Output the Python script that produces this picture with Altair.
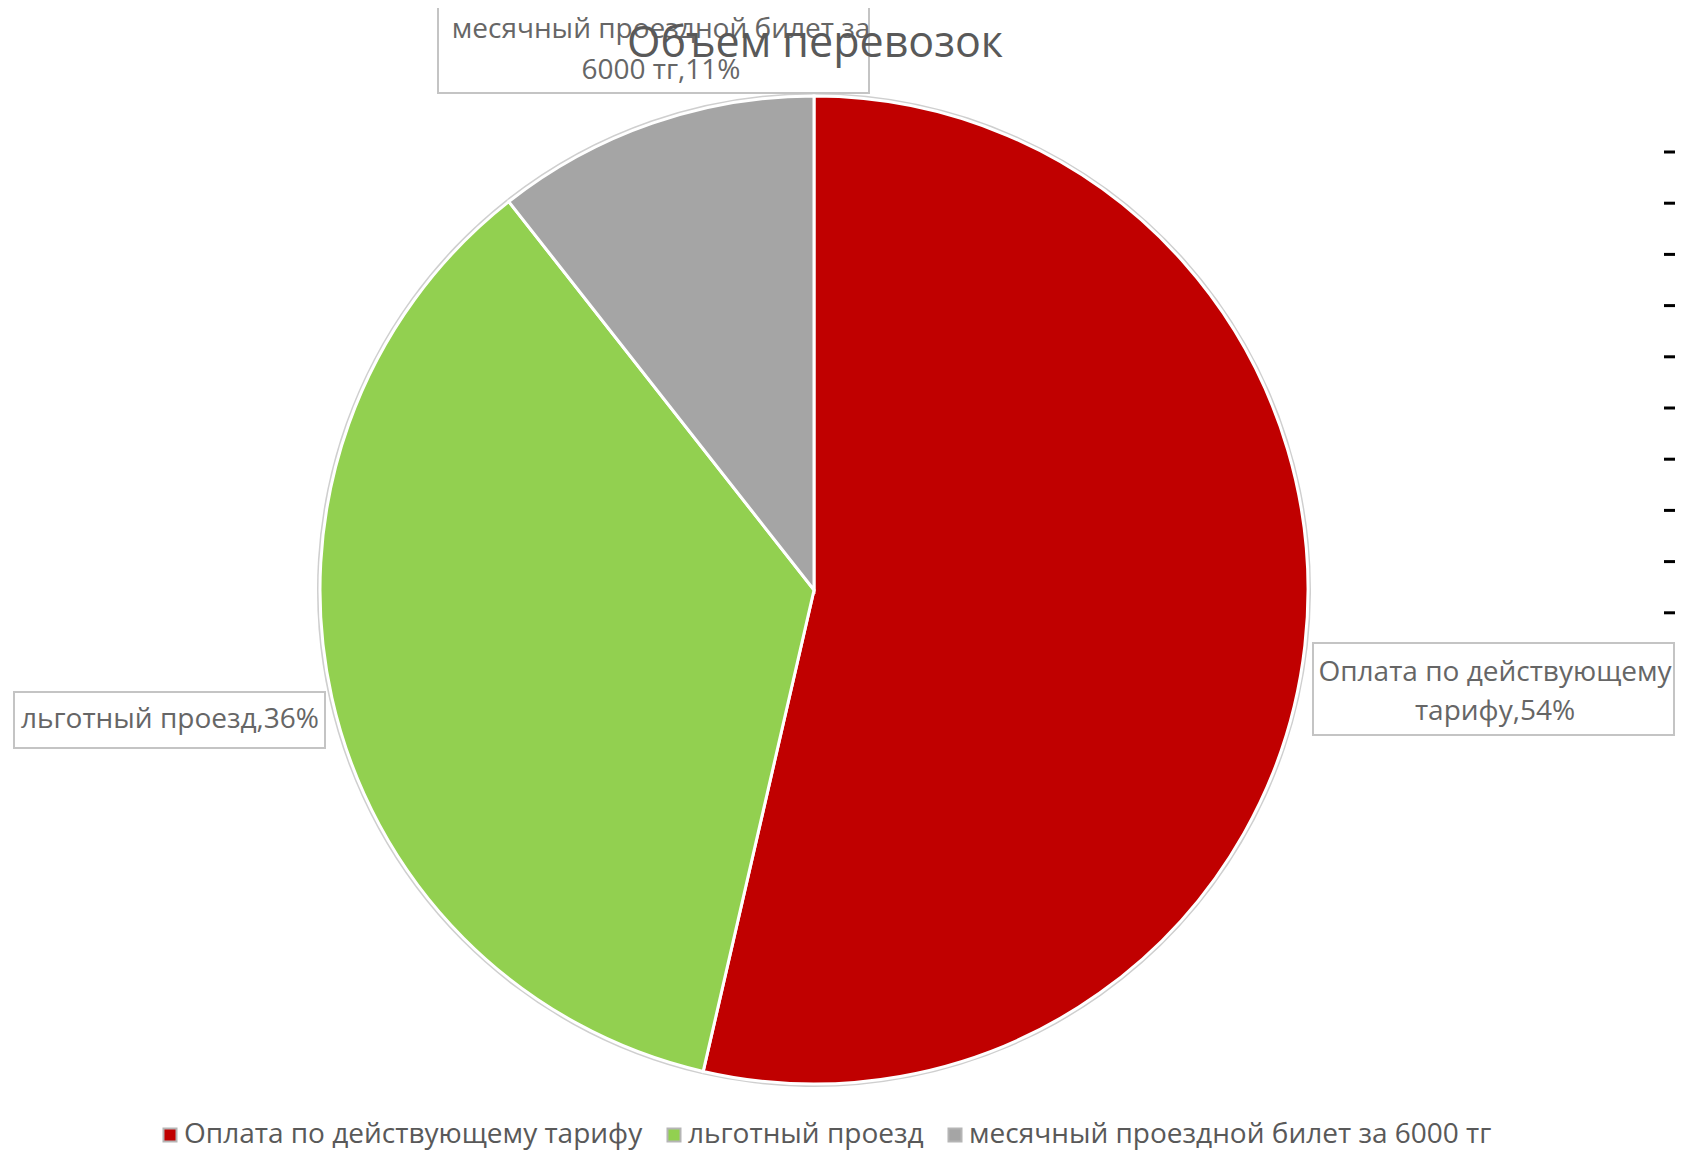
import altair as alt
import pandas as pd

# ---- data ----
categories = ["Оплата по действующему тарифу", "льготный проезд", "месячный проездной билет за 6000 тг"]
shares = [53.6, 35.8, 10.6]
colors = ["#C00000", "#92D050", "#A5A5A5"]
label_red = ["Оплата по действующему", "тарифу,54%"]
label_green = ["льготный проезд,36%"]
label_gray = ["месячный проездной билет за", "6000 тг,11%"]
title_text = "Объем перевозок"
dash_ticks = list(range(11))

df = pd.DataFrame({"category": categories, "share": shares, "order": list(range(len(categories)))})
one = pd.DataFrame({"k": [0]})

W, H = 1667, 1143
CX, CY, R = 806, 582, 494
FONT = "Open Sans"
TXT = "#666666"

theta = alt.Theta("share:Q", stack=True)
order = alt.Order("order:Q")

ring = alt.Chart(df).mark_arc(radius=R + 3, fill="#cfcfcf").encode(
    theta=theta, order=order, x=alt.value(CX), y=alt.value(CY)
)

pie = alt.Chart(df).mark_arc(radius=R, stroke="white", strokeWidth=3).encode(
    theta=theta,
    order=order,
    x=alt.value(CX),
    y=alt.value(CY),
    color=alt.Color(
        "category:N",
        scale=alt.Scale(domain=categories, range=colors),
        sort=categories,
        legend=alt.Legend(
            title=None,
            orient="none",
            legendX=148,
            legendY=1113,
            direction="horizontal",
            columns=3,
            symbolType="square",
            symbolSize=170,
            symbolStrokeColor="#b5b5b5",
            symbolStrokeWidth=2,
            labelFont=FONT,
            labelFontSize=28,
            labelColor="#595959",
            labelOffset=0,
            columnPadding=17,
            labelLimit=0,
        ),
    ),
)

dashes = alt.Chart(pd.DataFrame({"t": dash_ticks})).mark_rule(color="black", strokeWidth=3).encode(
    y=alt.Y("t:Q", scale=alt.Scale(domain=[0, 10], range=[144, 656]), axis=None),
    x=alt.value(1656),
    x2=alt.value(1670),
)


def box(x0, x1, y0, y1):
    return alt.Chart(one).mark_rect(fill="white", stroke="#c4c4c4", strokeWidth=2).encode(
        x=alt.value(x0), x2=alt.value(x1), y=alt.value(y0), y2=alt.value(y1)
    )


def line(text, x, y, size=28, color=TXT):
    return alt.Chart(one).mark_text(
        text=text, font=FONT, fontSize=size, color=color, align="center", baseline="middle"
    ).encode(x=alt.value(x), y=alt.value(y))


boxes = [
    box(430, 861, -12, 85),
    box(6, 317, 684, 740),
    box(1305, 1666, 635, 727),
]
labels = [
    line(label_gray[0], 653, 22),
    line(label_gray[1], 653, 63),
    line(label_green[0], 162, 712),
    line(label_red[0], 1487, 665),
    line(label_red[1], 1487, 704),
]
title = line(title_text, 807, 36, size=43, color="#595959")

chart = alt.layer(ring, pie, dashes, *boxes, *labels, title).properties(
    width=W, height=H, autosize=alt.AutoSizeParams(type="none"), padding=0
).configure_view(stroke=None)

chart.save("out.html", embed_options={"renderer": "svg", "actions": False})
